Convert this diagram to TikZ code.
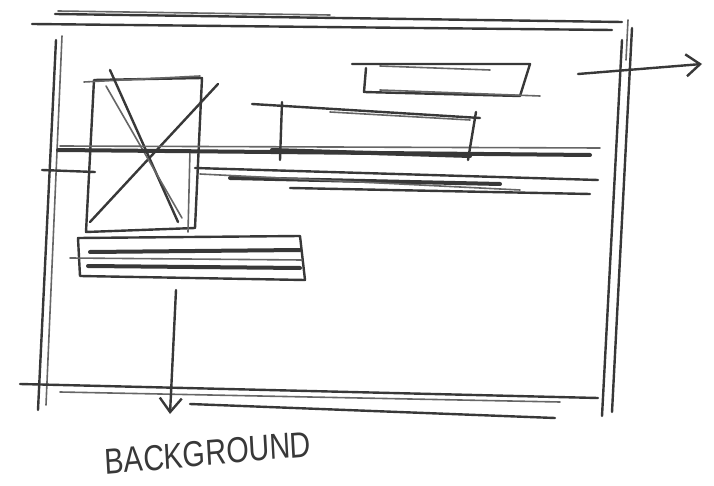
\documentclass[tikz,border=0pt]{standalone}
\usepackage{fontspec}
\setmainfont{Liberation Sans}
\usetikzlibrary{arrows.meta}
\definecolor{pen}{HTML}{383838}
\definecolor{penlight}{HTML}{666666}
\begin{document}
\begin{tikzpicture}[x=1pt,y=-1pt,
  stroke/.style={draw=pen,line width=2.4pt,line cap=round,line join=round},
  thin stroke/.style={draw=penlight,line width=1.6pt,line cap=round},
  heavy/.style={draw=pen,line width=4pt,line cap=round},
  arrowstroke/.style={stroke,-{Straight Barb[length=14pt,width=22pt,line width=2.4pt]}},
  label/.style={font=\fontsize{36}{36}\selectfont,text=pen,inner sep=0pt,xscale=0.8,rotate=4}]
\useasboundingbox (0,0) rectangle (714,486);
\fill[white] (0,0) rectangle (714,486);
% outer frame
\draw[stroke] (55,14) -- (622,22);
\draw[stroke] (32,24) -- (612,30);
\draw[thin stroke] (58,11) -- (330,15);
\draw[stroke] (56,40) -- (38,410);
\draw[thin stroke] (62,36) -- (46,405);
\draw[stroke] (632,28) -- (612,412);
\draw[stroke] (622,40) -- (602,416);
\draw[thin stroke] (628,20) -- (626,60);
\draw[stroke] (20,384) -- (598,398);
\draw[thin stroke] (60,392) -- (560,402);
\draw[stroke] (190,404) -- (555,418);
% exit arrow
\coordinate (exitA) at (578,74);
\coordinate (exitB) at (702,64);
\draw[arrowstroke] (exitA) -- (exitB);
% image placeholder
\coordinate (imgNW) at (94,80);
\coordinate (imgNE) at (202,78);
\coordinate (imgSE) at (195,228);
\coordinate (imgSW) at (86,232);
\draw[stroke] (imgNW) -- (imgNE) -- (imgSE) -- (imgSW) -- cycle;
\draw[thin stroke] (84,82) -- (200,76);
\draw[thin stroke] (190,150) -- (188,232);
\draw[stroke] (110,70) -- (178,222);
\draw[stroke] (90,222) -- (218,84);
\draw[thin stroke] (106,86) -- (182,218);
% heading rows
\draw[heavy] (58,150) -- (590,155);
\draw[thin stroke] (60,146) -- (600,148);
\draw[stroke] (42,170) -- (95,172);
\draw[stroke] (195,168) -- (598,180);
\draw[heavy] (230,178) -- (500,184);
\draw[stroke] (290,188) -- (590,194);
\draw[thin stroke] (200,174) -- (520,190);
% top-right box
\draw[stroke] (352,64) -- (530,64) -- (520,96) -- (364,92) -- (366,68);
\draw[thin stroke] (380,90) -- (540,96);
\draw[thin stroke] (380,66) -- (490,70);
% middle box
\draw[stroke] (252,104) -- (480,118);
\draw[stroke] (282,102) -- (280,160);
\draw[stroke] (476,112) -- (468,160);
\draw[thin stroke] (330,112) -- (470,120);
\draw[heavy] (272,150) -- (470,156);
% bar
\draw[stroke] (78,238) -- (300,236) -- (305,280) -- (80,276) -- cycle;
\draw[heavy] (90,252) -- (300,250);
\draw[heavy] (88,266) -- (300,268);
\draw[thin stroke] (70,258) -- (302,260);
% background arrow
\coordinate (bgA) at (176,290);
\coordinate (bgB) at (170,414);
\draw[arrowstroke] (bgA) -- (bgB);
\node[label] (bg) at (208,453) {BACKGROUND};
\end{tikzpicture}
\end{document}
